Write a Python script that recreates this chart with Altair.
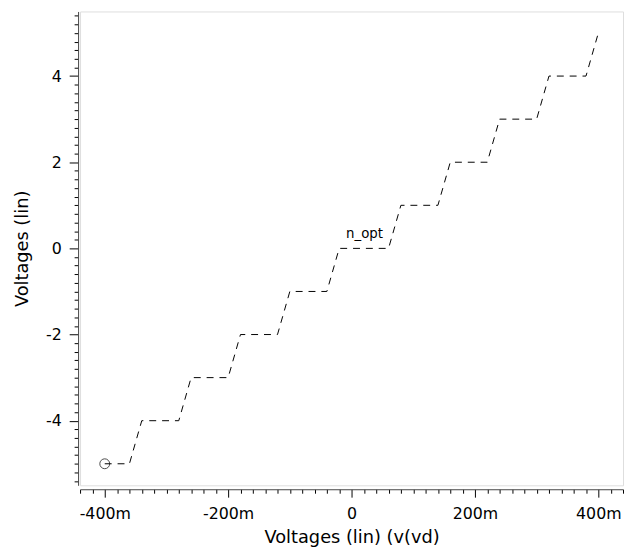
import altair as alt
import pandas as pd

# staircase corners of n_opt, x in mV, y in V
xs_mv = [-400, -360, -340, -280, -260, -200, -180, -120, -100, -40, -20,
         60, 80, 140, 160, 220, 240, 300, 320, 380, 400]
ys_v = [-5, -5, -4, -4, -3, -3, -2, -2, -1, -1, 0,
        0, 1, 1, 2, 2, 3, 3, 4, 4, 5]

marker_x = [-400]
marker_y = [-5]

label_text = ["n_opt"]
label_x = [21]
label_y = [0.34]

x_ticks = [v for v in range(-440, 441, 20)]
y_ticks = [round(-5.4 + 0.2 * i, 1) for i in range(55)]

df = pd.DataFrame({"x": xs_mv, "y": ys_v, "i": list(range(len(xs_mv)))})
dm = pd.DataFrame({"x": marker_x, "y": marker_y})
dl = pd.DataFrame({"x": label_x, "y": label_y, "t": label_text})

FONT = "DejaVu Sans"

xscale = alt.Scale(domain=[-440, 440], nice=False, zero=False)
yscale = alt.Scale(domain=[-5.5, 5.5], nice=False, zero=False)

xaxis = alt.Axis(
    title="Voltages (lin) (v(vd)",
    values=x_ticks,
    tickCount=500,
    labelExpr="datum.value % 200 === 0 ? (datum.value === 0 ? '0' : '' + datum.value + 'm') : ''",
    tickSize={"condition": {"test": "datum.value % 200 === 0", "value": 8}, "value": 4},
    labelOverlap=False,
    labelFlush=False,
    grid=False,
    offset=4,
    domainColor="#444",
    domainWidth=1,
    tickColor="#000",
    labelFont=FONT,
    labelFontSize=16,
    labelColor="#000",
    labelPadding=9,
    titleFont=FONT,
    titleFontSize=18,
    titleFontWeight="normal",
    titleColor="#000",
    titlePadding=7,
)

yaxis = alt.Axis(
    title="Voltages (lin)",
    values=y_ticks,
    tickCount=500,
    labelExpr="abs(datum.value - round(datum.value / 2) * 2) < 1e-6 ? '' + round(datum.value) : ''",
    tickSize={"condition": {"test": "abs(datum.value - round(datum.value / 2) * 2) < 1e-6", "value": 9}, "value": 4},
    labelOverlap=False,
    labelFlush=False,
    grid=False,
    offset=2,
    domainColor="#444",
    domainWidth=1,
    tickColor="#000",
    labelFont=FONT,
    labelFontSize=16,
    labelColor="#000",
    labelPadding=8,
    titleFont=FONT,
    titleFontSize=18,
    titleFontWeight="normal",
    titleColor="#000",
    titlePadding=14,
)

line = alt.Chart(df).mark_line(color="#000", strokeWidth=1, strokeDash=[7, 6]).encode(
    x=alt.X("x:Q", scale=xscale, axis=xaxis),
    y=alt.Y("y:Q", scale=yscale, axis=yaxis),
    order="i:Q",
)

marker = alt.Chart(dm).mark_point(shape="circle", filled=False, color="#000", size=100, strokeWidth=1).encode(
    x="x:Q", y="y:Q"
)

label = alt.Chart(dl).mark_text(font=FONT, fontSize=13.5, color="#000").encode(
    x="x:Q", y="y:Q", text="t:N"
)

chart = (line + marker + label).properties(
    width=550,
    height=480,
    autosize=alt.AutoSizeParams(type="none"),
    padding={"left": 73, "top": 0, "right": 1, "bottom": 60},
).configure_view(stroke="#606060", strokeWidth=2).configure(background="white")

chart.save("out.html", embed_options={"renderer": "svg", "actions": False})
